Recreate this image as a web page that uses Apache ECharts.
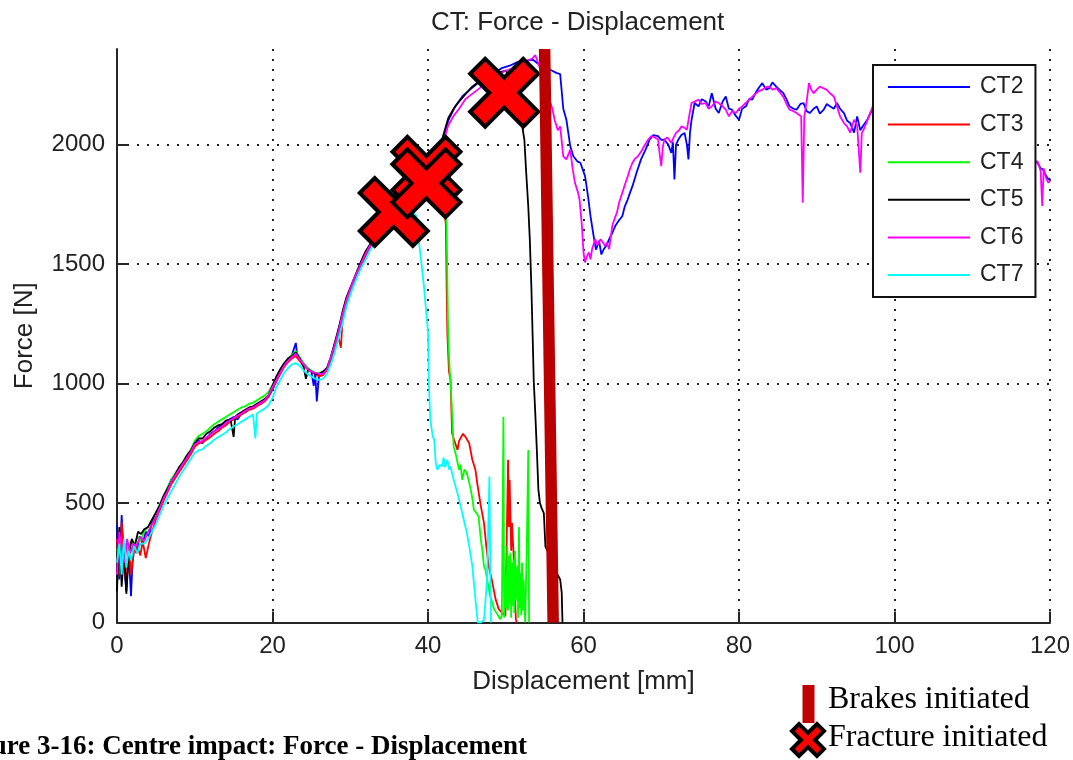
<!DOCTYPE html>
<html>
<head>
<meta charset="utf-8">
<script src="https://cdn.jsdelivr.net/npm/echarts@6/dist/echarts.min.js"></script>
<style>
html,body{margin:0;padding:0;background:#fff;}
#chart{width:1073px;height:760px;}
</style>
</head>
<body>
<div id="chart"></div>
<script>
// ---------------- DATA ----------------
const seriesNames = ['CT2', 'CT3', 'CT4', 'CT5', 'CT6', 'CT7'];
const yTickValues = [0, 500, 1000, 1500, 2000];

const ct2 = [[0,410],[0.3,180],[0.6,450],[0.9,250],[1.2,130],[1.5,300],[1.8,110],[2.1,330],[2.5,290],[2.9,360],[3.3,330],[3.7,380],[4.1,360],[4.5,420],[5.0,440],[5.5,480],[6.0,530],[6.5,560],[7.0,600],[7.5,610],[8.0,640],[8.5,660],[9.0,680],[9.5,710],[10.0,740],[10.5,760],[11.0,750],[11.5,770],[12.0,790],[12.5,800],[13.0,815],[13.5,825],[14.0,835],[14.5,850],[15.0,860],[15.5,850],[16.0,875],[16.5,880],[17.0,895],[17.5,900],[18.0,910],[18.5,915],[19.0,930],[19.5,945],[20.0,975],[20.5,1010],[21.0,1045],[21.5,1080],[22.0,1100],[22.5,1120],[23.0,1170],[23.2,1110],[23.6,1100],[24.0,1085],[24.5,1065],[25.0,1050],[25.3,990],[25.5,1040],[25.7,925],[26.0,1040],[26.5,1045],[27.0,1060],[27.5,1100],[28.0,1160],[28.5,1210],[29.0,1280],[29.5,1340],[30.0,1390],[30.5,1430],[31.0,1470],[31.5,1510],[32.0,1540],[32.5,1570],[33.0,1600],[34.0,1650],[35.0,1700],[36.0,1740],[37.0,1780],[38.0,1820],[39.0,1860],[40.0,1905],[41.0,1960],[41.8,2010],[42.6,2100],[43.5,2160],[44.5,2205],[45.6,2235],[46.7,2265],[47.5,2280],[48.5,2300],[49.5,2320],[50.5,2330],[51.5,2345],[52.5,2350],[53.5,2355],[54.5,2330],[55.3,2320],[55.9,2310],[56.5,2300],[57.0,2295],[57.4,2150],[57.8,2104],[58.3,1993],[58.7,1951],[59.2,1930],[59.6,1924],[60.2,1868],[60.6,1780],[60.9,1701],[61.3,1618],[61.6,1560],[62.0,1597],[62.3,1540],[62.6,1562],[63.0,1580],[63.3,1604],[63.7,1630],[64.1,1660],[64.5,1680],[65.0,1701],[65.3,1740],[65.7,1771],[66.0,1800],[66.3,1826],[66.8,1880],[67.4,1938],[68.0,1980],[68.5,2021],[69.0,2040],[69.6,2035],[70.0,2020],[70.4,2021],[70.9,2000],[71.3,1965],[71.5,2010],[71.7,1854],[71.9,2000],[72.2,2021],[72.6,2040],[73.0,2049],[73.3,2000],[73.5,1938],[73.7,2050],[73.9,2104],[74.3,2174],[74.8,2160],[75.2,2190],[75.7,2181],[76.1,2160],[76.5,2215],[77.0,2150],[77.4,2132],[77.9,2180],[78.3,2201],[78.7,2150],[79.1,2146],[79.6,2120],[80.0,2104],[80.4,2150],[80.9,2160],[81.3,2190],[81.7,2188],[82.2,2220],[82.6,2240],[83.0,2257],[83.5,2230],[83.9,2236],[84.3,2260],[84.8,2243],[85.2,2230],[85.7,2215],[86.1,2190],[86.5,2160],[87.0,2150],[87.4,2146],[87.9,2170],[88.3,2174],[88.7,2140],[89.1,2132],[89.6,2150],[90.0,2160],[90.4,2130],[90.9,2146],[91.3,2170],[91.7,2160],[92.2,2150],[92.6,2174],[93.0,2150],[93.5,2132],[93.9,2100],[94.3,2090],[94.8,2050],[95.2,2118],[95.6,2060],[95.9,2076],[96.5,2104],[97.2,2150],[97.8,2130],[99,2110],[101,2080],[103,2090],[105,2050],[107,2040],[109,2010],[111,2000],[113,1980],[115,1960],[117,1940],[118.4,1924],[118.8,1900],[119.1,1896],[119.5,1870],[119.8,1854],[120,1860]];

const ct3 = [[0,350],[0.3,200],[0.6,420],[0.9,260],[1.2,150],[1.5,330],[1.8,200],[2.2,300],[2.6,320],[3.0,280],[3.3,340],[3.7,270],[4.1,330],[4.5,380],[5.0,430],[5.5,470],[6.0,510],[6.5,545],[7.0,580],[7.5,605],[8.0,630],[8.5,655],[9.0,680],[9.5,705],[10.0,735],[10.5,750],[11.0,755],[11.5,765],[12.0,775],[12.5,790],[13.0,800],[13.5,815],[14.0,825],[14.5,840],[15.0,850],[15.5,860],[16.0,870],[16.5,880],[17.0,890],[17.5,895],[18.0,905],[18.5,915],[19.0,925],[19.5,945],[20.0,980],[20.5,1010],[21.0,1040],[21.5,1070],[22.0,1090],[22.5,1105],[23.0,1115],[23.5,1095],[24.0,1075],[24.5,1060],[25.0,1050],[25.5,1040],[26.0,1030],[26.5,1035],[27.0,1055],[27.5,1100],[28.0,1150],[28.5,1190],[28.8,1150],[29.0,1260],[29.5,1330],[30.0,1390],[30.5,1430],[31.0,1465],[31.5,1500],[32.0,1535],[32.5,1570],[33.0,1595],[34,1650],[35,1695],[36,1735],[37,1775],[38,1815],[39,1850],[40,1890],[41,1930],[41.8,1960],[42.2,1700],[42.3,1660],[42.4,1400],[42.5,1200],[42.7,1050],[42.9,1014],[43.1,792],[43.4,760],[43.8,722],[44.0,760],[44.2,764],[44.5,790],[44.8,778],[45.0,770],[45.3,750],[45.7,681],[46.1,639],[46.4,569],[46.8,486],[47.2,417],[47.5,319],[47.8,236],[48.2,180],[48.5,130],[48.7,97],[49.1,56],[49.5,42],[49.96,28],[50.1,300],[50.3,681],[50.4,400],[50.5,597],[50.7,300],[50.8,417],[51.0,292],[51.2,100],[51.3,14],[51.4,0]];

const ct4 = [[0,300],[0.3,320],[0.6,280],[1.0,330],[1.4,290],[1.8,340],[2.2,320],[2.6,360],[3.0,340],[3.5,380],[4.0,400],[4.5,430],[5.0,460],[5.5,495],[6.0,530],[6.5,565],[7.0,600],[7.5,625],[8.0,650],[8.5,675],[9.0,700],[9.5,725],[10.0,760],[10.5,780],[11.0,790],[11.5,800],[12.0,815],[12.5,830],[13.0,840],[13.5,850],[14.0,860],[14.5,870],[15.0,880],[15.5,890],[16.0,900],[16.5,905],[17.0,915],[17.5,920],[18.0,930],[18.5,940],[19.0,950],[19.5,965],[20.0,995],[20.5,1025],[21.0,1055],[21.5,1085],[22.0,1105],[22.5,1120],[23.0,1135],[23.5,1110],[24.0,1085],[24.5,1065],[25.0,1055],[25.5,1045],[26.0,1045],[26.5,1050],[27.0,1065],[27.5,1110],[28.0,1165],[28.5,1225],[29.0,1290],[29.5,1350],[30.0,1395],[30.5,1440],[31.0,1480],[31.5,1515],[32.0,1550],[32.5,1580],[33.0,1605],[34,1660],[35,1705],[36,1745],[37,1785],[38,1825],[39,1860],[40,1900],[41,1940],[41.8,1970],[42.3,1700],[42.4,1660],[42.5,1400],[42.6,1200],[42.8,1050],[42.9,1014],[43.3,736],[43.6,700],[44.0,639],[44.2,660],[44.4,597],[44.7,640],[45.0,625],[45.2,600],[45.5,556],[45.7,520],[45.9,472],[46.2,460],[46.5,444],[46.8,347],[47.0,300],[47.2,236],[47.4,220],[47.6,180],[48.0,111],[48.5,56],[48.9,35],[49.3,14],[49.5,30],[49.7,861],[49.8,20],[50.0,200],[50.1,60],[50.2,319],[50.3,50],[50.4,280],[50.5,80],[50.6,292],[50.7,20],[50.8,250],[50.9,70],[51.0,264],[51.1,40],[51.2,300],[51.3,90],[51.5,236],[51.6,20],[51.7,400],[51.8,60],[51.9,208],[52.0,30],[52.1,250],[52.2,50],[52.3,180],[52.5,0],[52.7,300],[52.9,722],[53.0,0]];

const ct5 = [[0,130],[0.3,400],[0.6,150],[0.9,300],[1.2,120],[1.5,280],[1.9,350],[2.3,320],[2.7,380],[3.1,370],[3.5,390],[4.0,400],[4.5,430],[5.0,460],[5.5,490],[6.0,530],[6.5,560],[7.0,590],[7.5,620],[8.0,650],[8.5,670],[9.0,700],[9.5,720],[10.0,750],[10.5,770],[11.0,770],[11.5,790],[12.0,800],[12.5,815],[13.0,825],[13.5,830],[14.0,845],[14.6,850],[15.0,777],[15.2,860],[15.5,870],[16.0,880],[16.5,890],[17.0,900],[17.5,905],[18.0,915],[18.5,925],[19.0,935],[19.5,950],[20.0,990],[20.5,1030],[21.0,1060],[21.5,1085],[22.0,1105],[22.5,1115],[23.0,1130],[23.5,1105],[24.0,1070],[24.3,1020],[24.6,1060],[25.0,1050],[25.5,1040],[26.0,1040],[26.5,1050],[27.0,1065],[27.5,1110],[28.0,1170],[28.5,1230],[29.0,1300],[29.5,1360],[30.0,1400],[30.5,1440],[31.0,1480],[31.5,1520],[32.0,1555],[32.5,1580],[33.0,1610],[34,1660],[35,1705],[36,1750],[37,1790],[38,1830],[39,1870],[40,1910],[41,1970],[41.8,2020],[42.6,2110],[43.3,2150],[44.0,2180],[44.8,2210],[45.6,2240],[46.4,2260],[47.2,2275],[48.0,2290],[49.0,2300],[50.0,2310],[51.0,2250],[51.8,2150],[52.2,2061],[52.4,2019],[52.6,1900],[52.9,1740],[53.1,1600],[53.3,1400],[53.5,1150],[53.6,1014],[53.8,875],[54.0,722],[54.2,556],[54.4,500],[54.6,480],[54.9,458],[55.1,319],[55.5,290],[56.0,240],[56.5,210],[57.0,180],[57.2,125],[57.3,0]];

const ct6 = [[0,200],[0.3,380],[0.6,300],[1.0,250],[1.3,350],[1.7,290],[2.1,330],[2.5,320],[3.0,360],[3.5,340],[4.0,380],[4.5,410],[5.0,440],[5.5,480],[6.0,520],[6.5,550],[7.0,590],[7.5,615],[8.0,640],[8.5,665],[9.0,690],[9.5,715],[10.0,745],[10.5,755],[11.0,760],[11.5,775],[12.0,785],[12.5,800],[13.0,810],[13.5,820],[14.0,835],[14.5,845],[15.0,855],[15.5,865],[16.0,875],[16.5,885],[17.0,895],[17.5,900],[18.0,910],[18.5,920],[19.0,930],[19.5,950],[20.0,985],[20.5,1015],[21.0,1045],[21.5,1075],[22.0,1095],[22.5,1110],[23.0,1125],[23.5,1100],[24.0,1080],[24.5,1060],[25.0,1050],[25.5,1045],[26.0,1040],[26.5,1040],[27.0,1060],[27.5,1110],[28.0,1160],[28.5,1220],[29.0,1290],[29.5,1350],[30.0,1395],[30.5,1440],[31.0,1475],[31.5,1510],[32.0,1545],[32.5,1575],[33.0,1600],[34.0,1655],[35.0,1700],[36.0,1745],[37.0,1785],[38.0,1825],[39.0,1865],[40.0,1900],[41.0,1950],[41.8,1990],[42.6,2080],[43.3,2120],[44.0,2150],[44.8,2190],[45.6,2210],[46.4,2230],[47.2,2250],[48.0,2270],[49.0,2290],[50.0,2310],[51.0,2320],[52.0,2330],[52.8,2350],[53.4,2360],[53.8,2374],[54.2,2339],[54.6,2300],[55.0,2260],[55.5,2200],[56.0,2150],[56.3,2102],[56.7,2060],[57.0,2076],[57.4,1951],[57.8,1938],[58.3,1979],[58.6,1900],[58.9,1840],[59.3,1799],[59.5,1768],[59.8,1660],[60.0,1549],[60.2,1507],[60.4,1530],[60.7,1549],[60.9,1520],[61.1,1562],[61.5,1604],[61.8,1580],[62.2,1604],[62.5,1590],[62.8,1576],[63.0,1590],[63.3,1562],[63.7,1660],[64.0,1690],[64.3,1715],[64.6,1760],[65.0,1799],[65.3,1830],[65.7,1868],[66.0,1900],[66.3,1924],[66.6,1940],[67.0,1951],[67.4,1970],[67.8,1993],[68.3,2020],[68.7,2035],[69.2,2030],[69.6,2021],[69.8,1960],[70.0,1910],[70.2,1990],[70.4,2021],[70.8,2030],[71.3,2007],[71.6,2030],[71.9,2049],[72.3,2060],[72.6,2076],[73.0,2070],[73.3,2062],[73.6,2120],[73.9,2174],[74.3,2180],[74.8,2188],[75.2,2170],[75.7,2174],[76.1,2150],[76.5,2160],[77.0,2180],[77.4,2174],[77.9,2160],[78.3,2146],[78.7,2118],[79.1,2140],[79.6,2132],[80.0,2150],[80.4,2160],[80.9,2175],[81.3,2188],[81.7,2200],[82.2,2215],[82.6,2225],[83.0,2229],[83.5,2240],[83.9,2243],[84.3,2230],[84.8,2236],[85.2,2220],[85.7,2201],[86.1,2170],[86.5,2146],[87.0,2140],[87.4,2132],[87.7,2125],[88.0,2118],[88.2,1757],[88.4,2118],[88.7,2180],[89.0,2257],[89.3,2230],[89.6,2215],[90.0,2230],[90.4,2243],[90.9,2235],[91.3,2229],[91.7,2215],[92.2,2201],[92.6,2160],[93.0,2118],[93.5,2090],[93.9,2076],[94.3,2050],[94.8,2104],[95.2,2080],[95.6,1882],[95.8,2049],[96.0,2060],[96.5,2100],[97.2,2160],[97.8,2140],[99,2120],[101,2090],[103,2070],[105,2060],[107,2030],[109,2020],[111,1990],[113,1970],[115,1950],[117,1930],[118.4,1930],[118.8,1890],[119.0,1743],[119.2,1900],[119.5,1860],[119.8,1840],[120,1850]];

const ct7 = [[0,250],[0.3,330],[0.6,200],[0.9,350],[1.2,230],[1.5,300],[1.8,260],[2.2,320],[2.6,290],[3.0,330],[3.5,330],[4.0,350],[4.5,380],[5.0,410],[5.5,450],[6.0,490],[6.5,520],[7.0,550],[7.5,580],[8.0,610],[8.5,635],[9.0,660],[9.5,685],[10.0,710],[10.5,720],[11.0,725],[11.5,740],[12.0,750],[12.5,765],[13.0,775],[13.5,785],[14.0,795],[14.5,810],[15.0,820],[15.5,830],[16.0,840],[16.5,850],[17.0,860],[17.5,870],[17.8,770],[18.0,875],[18.5,885],[19.0,895],[19.5,910],[20.0,940],[20.5,985],[21.0,1015],[21.5,1045],[22.0,1065],[22.5,1080],[23.0,1085],[23.5,1075],[24.0,1055],[24.5,1040],[25.0,1030],[25.5,1020],[26.0,1015],[26.5,1020],[27.0,1040],[27.5,1080],[28.0,1130],[28.5,1190],[29.0,1250],[29.5,1320],[30.0,1370],[30.5,1415],[31.0,1455],[31.5,1490],[32.0,1520],[32.5,1555],[33.0,1580],[34,1630],[35,1680],[36,1720],[37,1730],[38.0,1720],[38.5,1701],[38.8,1600],[39.1,1521],[39.5,1400],[40.0,1215],[40.1,1014],[40.3,847],[40.6,780],[40.8,764],[41.0,667],[41.2,639],[41.5,660],[41.8,653],[42.0,690],[42.2,650],[42.5,681],[42.7,640],[42.9,653],[43.3,597],[43.8,540],[44.2,486],[44.6,430],[45.0,375],[45.4,300],[45.7,236],[46.1,97],[46.4,0],[46.8,0],[47.2,10],[47.4,14],[47.6,180],[47.9,611],[48.0,264],[48.1,0]];

const brakeLine = [[55.0, 2400], [56.1, 0]];
const fracturePoints = [[35.6, 1718], [39.8, 1890], [39.8, 1838], [49.8, 2217]];

const seriesColors = ['#0000ff', '#ff0000', '#00ff00', '#000000', '#ff00ff', '#00ffff'];
const seriesData = [ct2, ct3, ct4, ct5, ct6, ct7];

const titleText = 'CT: Force - Displacement';
const xName = 'Displacement [mm]';
const yName = 'Force [N]';
const captionText = 'ure 3-16: Centre impact: Force - Displacement';
const brakeLabel = 'Brakes initiated';
const fractureLabel = 'Fracture initiated';

// ---------------- CHART ----------------
// X-shaped marker outline in a 100x100 box
const X_VERTS = [[0,22],[22,0],[50,28],[78,0],[100,22],[72,50],[100,78],[78,100],[50,72],[22,100],[0,78],[28,50]];
const X_PATH = 'M' + X_VERTS.map(p => p[0] + ',' + p[1]).join(' L') + ' Z';
function xPolygon(cx, cy, size) {
  return X_VERTS.map(p => [cx - size / 2 + p[0] * size / 100, cy - size / 2 + p[1] * size / 100]);
}

const chart = echarts.init(document.getElementById('chart'), null, {renderer: 'canvas'});
const SANS = 'Liberation Sans, Arial, sans-serif';
const SERIF = 'Liberation Serif, Times New Roman, serif';
const dotted = {type: [2, 8], width: 2, color: '#222'};

const series = seriesNames.map((n, i) => ({
  name: n, type: 'line', data: seriesData[i], symbol: 'none', showSymbol: false,
  lineStyle: {color: seriesColors[i], width: 1.8}, itemStyle: {color: seriesColors[i]},
  z: 2, silent: true, animation: false
}));
series.push({
  name: 'Brakes', type: 'line', data: brakeLine, symbol: 'none',
  lineStyle: {color: '#bb0000', width: 11.5, cap: 'butt'}, z: 5, animation: false, silent: true
});
series.push({
  name: 'Fracture', type: 'scatter', data: fracturePoints,
  symbol: 'path://' + X_PATH, symbolSize: 68,
  itemStyle: {color: '#ff0000', borderColor: '#000', borderWidth: 4, opacity: 1},
  z: 4, animation: false, silent: true
});

chart.setOption({
  backgroundColor: '#fff',
  animation: false,
  title: {
    text: titleText, left: 431, top: 10, padding: 0,
    textStyle: {fontFamily: SANS, fontSize: 26, fontWeight: 'normal', color: '#222'}
  },
  grid: {left: 117, right: 23, top: 49, bottom: 137.5, containLabel: false},
  xAxis: {
    type: 'value', min: 0, max: 120, interval: 20,
    name: xName, nameLocation: 'middle', nameGap: 46,
    nameTextStyle: {fontFamily: SANS, fontSize: 26, color: '#222'},
    axisLine: {show: true, onZero: false, lineStyle: {color: '#262626', width: 2}},
    axisTick: {show: true, inside: true, length: 11, lineStyle: {color: '#262626', width: 2}},
    axisLabel: {fontFamily: SANS, fontSize: 24, color: '#222', margin: 12},
    splitLine: {show: true, lineStyle: dotted}
  },
  yAxis: {
    type: 'value', min: 0, max: 2400, interval: 500,
    name: yName, nameLocation: 'middle', nameGap: 79, nameRotate: 90,
    nameTextStyle: {fontFamily: SANS, fontSize: 26, color: '#222'},
    axisLine: {show: true, onZero: false, lineStyle: {color: '#262626', width: 2}},
    axisTick: {show: true, inside: true, length: 10, customValues: yTickValues, lineStyle: {color: '#262626', width: 2}},
    axisLabel: {fontFamily: SANS, fontSize: 24, color: '#222', margin: 12, customValues: yTickValues,
      formatter: v => (v > 2000 ? '' : String(v))},
    splitLine: {show: true, lineStyle: dotted}
  },
  legend: {
    data: seriesNames, orient: 'vertical', left: 873, top: 65, icon: 'rect',
    padding: [10, 12, 10, 15], itemGap: 13.6, itemWidth: 82, itemHeight: 2,
    backgroundColor: '#fff', borderColor: '#111', borderWidth: 2, borderRadius: 0,
    textStyle: {fontFamily: SANS, fontSize: 23, color: '#222', lineHeight: 24, padding: [0, 0, 0, 5]},
    z: 10, selectedMode: false
  },
  graphic: [
    {type: 'rect', shape: {x: 802.5, y: 685, width: 12, height: 38}, style: {fill: '#c00000'}, z: 10},
    {type: 'polygon', shape: {points: xPolygon(808, 740, 32)},
      style: {fill: '#ff0000', stroke: '#000', lineWidth: 4}, z: 11},
    {type: 'text', x: 828, y: 700, style: {text: brakeLabel, font: '32px ' + SERIF, fill: '#000', verticalAlign: 'middle', align: 'left'}, z: 10},
    {type: 'text', x: 828, y: 738, style: {text: fractureLabel, font: '32px ' + SERIF, fill: '#000', verticalAlign: 'middle', align: 'left'}, z: 10},
    {type: 'text', x: 527, y: 747, style: {text: captionText, font: 'bold 27px ' + SERIF, fill: '#000', verticalAlign: 'middle', align: 'right'}, z: 10}
  ],
  series: series
});
</script>
</body>
</html>
